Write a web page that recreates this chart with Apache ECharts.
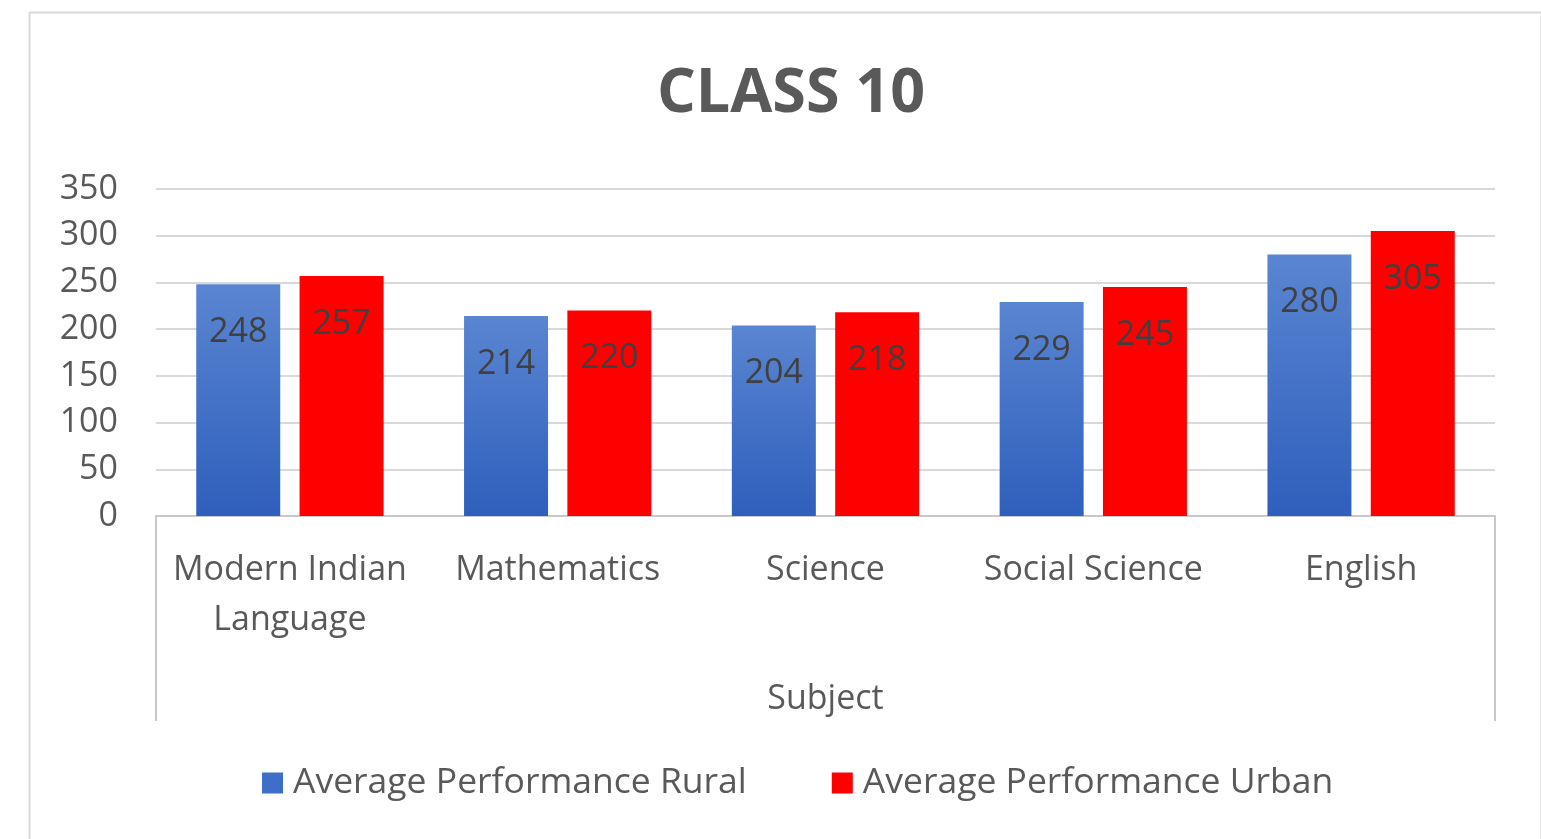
<!DOCTYPE html>
<html>
<head>
<meta charset="utf-8">
<script src="https://cdn.jsdelivr.net/npm/echarts@6/dist/echarts.min.js"></script>
<style>
html,body{margin:0;padding:0;background:#fff;}
#chart{width:1541px;height:839px;}
</style>
</head>
<body>
<div id="chart"></div>
<script>
const categories = ['Modern Indian\nLanguage', 'Mathematics', 'Science', 'Social Science', 'English'];
const rural = [248, 214, 204, 229, 280];
const urban = [257, 220, 218, 245, 305];
const seriesNames = ['Average Performance Rural', 'Average Performance Urban'];
const yTicks = { min: 0, max: 350, interval: 50 };

const FONT = '"Open Sans", Lato, sans-serif';
const chart = echarts.init(document.getElementById('chart'));
chart.setOption({
  animation: false,
  backgroundColor: '#fff',
  graphic: [{
    type: 'rect', left: 27, top: 10,
    shape: { width: 1512, height: 840 },
    style: { fill: 'none', stroke: '#d9d9d9', lineWidth: 2 },
    silent: true
  }],
  title: {
    text: 'CLASS 10', left: 786, textAlign: 'center', top: 59,
    textStyle: { fontFamily: FONT, fontSize: 61, fontWeight: 'bold', color: '#595959' }
  },
  legend: {
    top: 765, left: 262, padding: 0,
    itemWidth: 21, itemHeight: 21, itemGap: 85,
    textStyle: { fontFamily: FONT, fontSize: 35.5, color: '#595959', padding: [0, 0, 0, 5] },
    data: [
      { name: seriesNames[0], icon: 'rect', itemStyle: { color: '#3d6fc8' } },
      { name: seriesNames[1], icon: 'rect', itemStyle: { color: '#ff0000' } }
    ]
  },
  grid: { left: 156, right: 46, top: 189, bottom: 323 },
  xAxis: {
    type: 'category', data: categories,
    axisLine: { show: true, lineStyle: { color: '#c8c8c8', width: 2 } },
    axisTick: { show: true, length: 205, interval: function (i) { return i === 0; }, lineStyle: { color: '#c8c8c8', width: 2 } },
    axisLabel: { fontFamily: FONT, fontSize: 34, color: '#595959', margin: 29, lineHeight: 50, interval: 0 },
    name: 'Subject', nameLocation: 'middle', nameGap: 166,
    nameTextStyle: { fontFamily: FONT, fontSize: 34, color: '#595959' }
  },
  yAxis: {
    type: 'value', min: yTicks.min, max: yTicks.max, interval: yTicks.interval,
    axisLine: { show: false }, axisTick: { show: false },
    axisLabel: { fontFamily: FONT, fontSize: 34, color: '#595959', margin: 38 },
    splitLine: { lineStyle: { color: '#d9d9d9', width: 2 } }
  },
  series: [
    {
      name: seriesNames[0], type: 'bar', data: rural,
      barWidth: 84, barGap: '23%',
      itemStyle: {
        color: new echarts.graphic.LinearGradient(0, 0, 0, 1, [
          { offset: 0, color: '#5a85d1' }, { offset: 1, color: '#2f5fbc' }
        ])
      },
      label: { show: true, position: 'insideTop', distance: 31, fontFamily: FONT, fontSize: 34, color: '#404040' }
    },
    {
      name: seriesNames[1], type: 'bar', data: urban,
      barWidth: 84, barGap: '23%',
      itemStyle: { color: '#ff0000' },
      label: { show: true, position: 'insideTop', distance: 31, fontFamily: FONT, fontSize: 34, color: '#404040' }
    }
  ]
});
</script>
</body>
</html>
